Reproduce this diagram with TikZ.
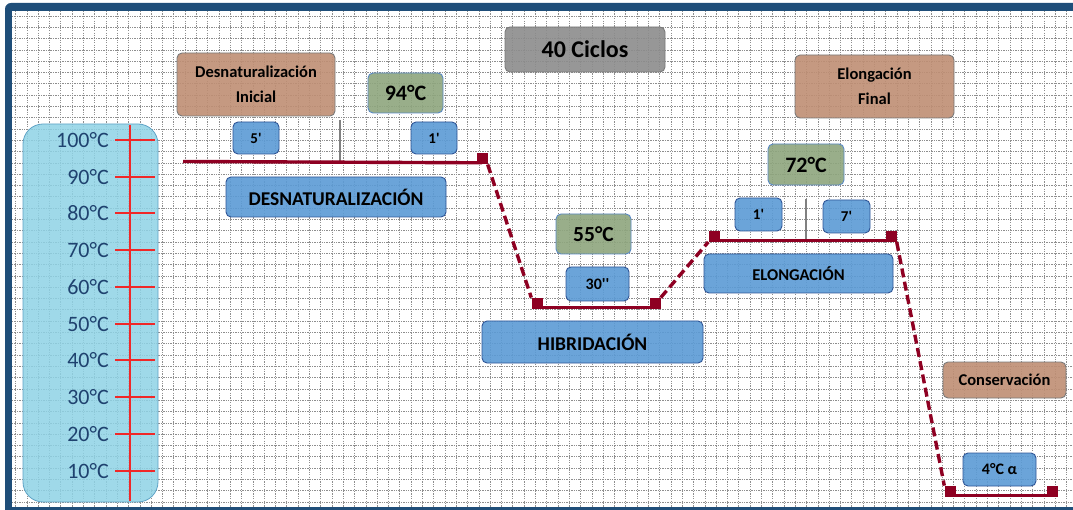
\documentclass[tikz,border=0pt]{standalone}
\usepackage{fontspec}
\setmainfont{Carlito}[Ligatures=TeXOff]
\definecolor{frameblue}{HTML}{1F4E79}
\definecolor{gridgray}{HTML}{8E8E8E}
\definecolor{thermofill}{HTML}{8FD3E6}
\definecolor{thermoline}{HTML}{5FA3C6}
\definecolor{axisred}{HTML}{F02828}
\definecolor{labelblue}{HTML}{1F426F}
\definecolor{plotred}{HTML}{8E0022}
\definecolor{boxblue}{HTML}{5B9BD5}
\definecolor{boxblueline}{HTML}{2F5597}
\definecolor{boxgreen}{HTML}{8EA67E}
\definecolor{boxgreenline}{HTML}{5A8AC6}
\definecolor{boxbrown}{HTML}{BF8F74}
\definecolor{boxgray}{HTML}{8C8C8C}
\definecolor{boxgrayline}{HTML}{7A7A7A}
\begin{document}
\begin{tikzpicture}[x=1pt,y=-1pt,
  gridline/.style={gridgray, line width=0.6pt, dash pattern=on 1.3pt off 1.1pt},
  box/.style={rectangle, rounded corners=5pt, inner sep=0pt, line width=0.9pt,
    fill opacity=0.9, text opacity=1, align=center, text=black},
  bluebox/.style={box, fill=boxblue, draw=boxblueline},
  greenbox/.style={box, fill=boxgreen, draw=boxgreenline},
  brownbox/.style={box, fill=boxbrown, draw=boxgrayline},
  graybox/.style={box, fill=boxgray, draw=boxgrayline},
  tlabel/.style={anchor=east, inner sep=0pt, text=labelblue, font=\fontsize{22}{24}\selectfont},
  sq/.style={rectangle, fill=plotred, minimum size=11pt, inner sep=0pt, anchor=south},
  plotline/.style={plotred, line width=3.4pt},
  plotdash/.style={plotred, line width=3.4pt, dash pattern=on 9pt off 4.5pt},
  graytick/.style={draw=gray, line width=2.5pt},
  redaxis/.style={axisred, line width=2.6pt}]
\useasboundingbox (0,0) rectangle (1073,510);
\fill[white] (0,0) rectangle (1073,510);
% frame
\begin{scope}
  \clip (0,0) rectangle (1073,510);
  \fill[frameblue, rounded corners=6pt] (5,3) rectangle (1090,520);
  \fill[white] (12,11) rectangle (1073,507);
\end{scope}
% grid
\begin{scope}
  \clip (12,11) rectangle (1073,507);
  \foreach \i in {0,...,94} \draw[gridline] ({15.5+11.3*\i},11) -- ({15.5+11.3*\i},507);
  \foreach \j in {0,...,44} \draw[gridline] (12,{16+11.3*\j}) -- (1073,{16+11.3*\j});
\end{scope}
% thermometer
\node[rectangle, rounded corners=20pt, minimum width=135pt, minimum height=378pt,
  fill=thermofill, fill opacity=0.85, draw=thermoline, line width=0.8pt] (thermo) at (90.5,313) {};
\coordinate (axtop) at (130,125);
\coordinate (axbot) at (130,501);
\draw[redaxis] (axtop) -- (axbot);
\foreach \t/\y in {100/140,90/177,80/213,70/250,60/287,50/324,40/360,30/397,20/434,10/471}{
  \coordinate (tl\t) at (115,\y);
  \coordinate (tr\t) at (155,\y);
  \draw[redaxis] (tl\t) -- (tr\t);
  \node[tlabel] (lab\t) at (109,\y) {\t°C};
}
% boxes
\node[brownbox, minimum width=158pt, minimum height=63pt, font=\fontsize{16.5}{25}\selectfont\bfseries] (dini) at (256,84.5) {Desnaturalización\\Inicial};
\node[bluebox, minimum width=46pt, minimum height=32pt, font=\fontsize{15}{17}\selectfont\bfseries] (t5) at (256,138) {5'};
\node[greenbox, minimum width=75pt, minimum height=40pt, font=\fontsize{22}{24}\selectfont\bfseries] (g94) at (405.5,93) {94°C};
\node[bluebox, minimum width=46pt, minimum height=32pt, font=\fontsize{15}{17}\selectfont\bfseries] (t1a) at (434,138) {1'};
\node[graybox, minimum width=160pt, minimum height=45pt, font=\fontsize{24}{26}\selectfont\bfseries] (ciclos) at (585,49.5) {40 Ciclos};
\node[bluebox, minimum width=220pt, minimum height=40pt, font=\fontsize{19.5}{22}\selectfont\bfseries] (desnat) at (336,197) {DESNATURALIZACIÓN};
\node[greenbox, minimum width=75pt, minimum height=40pt, font=\fontsize{21.5}{24}\selectfont\bfseries] (g55) at (593.5,234) {55°C};
\node[bluebox, minimum width=63pt, minimum height=34pt, font=\fontsize{16}{18}\selectfont\bfseries] (t30) at (597.5,284) {30''};
\node[bluebox, minimum width=221pt, minimum height=42pt, font=\fontsize{19.5}{22}\selectfont\bfseries] (hibr) at (592.5,342) {HIBRIDACIÓN};
\node[brownbox, minimum width=159pt, minimum height=63pt, font=\fontsize{16.5}{25}\selectfont\bfseries] (efin) at (874.5,86.5) {Elongación\\Final};
\node[greenbox, minimum width=76pt, minimum height=41pt, font=\fontsize{22}{24}\selectfont\bfseries] (g72) at (806,164.5) {72°C};
\node[bluebox, minimum width=47pt, minimum height=33pt, font=\fontsize{15}{17}\selectfont\bfseries] (t1b) at (758.5,214.5) {1'};
\node[bluebox, minimum width=47pt, minimum height=33pt, font=\fontsize{15}{17}\selectfont\bfseries] (t7) at (846.5,216.5) {7'};
\node[bluebox, minimum width=189pt, minimum height=39pt, font=\fontsize{16.5}{19}\selectfont\bfseries] (elong) at (798.5,273.5) {ELONGACIÓN};
\node[brownbox, minimum width=123pt, minimum height=36pt, font=\fontsize{16.5}{19}\selectfont\bfseries] (cons) at (1004.5,380) {Conservación};
\node[bluebox, minimum width=73pt, minimum height=33pt, font=\fontsize{16}{18}\selectfont\bfseries] (t4) at (999.5,469.5) {4°C α};
% gray ticks
\coordinate (gk1a) at (340,120); \coordinate (gk1b) at (340,161);
\coordinate (gk2a) at (806,199); \coordinate (gk2b) at (806,239);
\draw[graytick] (gk1a) -- (gk1b);
\draw[graytick] (gk2a) -- (gk2b);
% temperature profile
\coordinate (c0) at (183,161.5);
\node[sq] (s1) at (482,164.5) {};
\node[sq] (s2) at (537,309) {};
\node[sq] (s3) at (655,309) {};
\node[sq] (s4) at (714,242) {};
\node[sq] (s5) at (891,242) {};
\node[sq] (s6) at (950,497) {};
\node[sq] (s7) at (1052,497) {};
\draw[plotline] (c0) -- ([yshift=1.7pt]s1.south);
\draw[plotdash] (s1.south east) -- (s2.north west);
\draw[plotline] ([yshift=1.7pt]s2.south) -- ([yshift=1.7pt]s3.south);
\draw[plotdash] (s3.north east) -- (s4.south west);
\draw[plotline] ([yshift=1.7pt]s4.south) -- ([yshift=1.7pt]s5.south);
\draw[plotdash] (s5.south east) -- (s6.north west);
\draw[plotline] ([yshift=1.7pt]s6.south) -- ([yshift=1.7pt]s7.south);
\end{tikzpicture}
\end{document}
